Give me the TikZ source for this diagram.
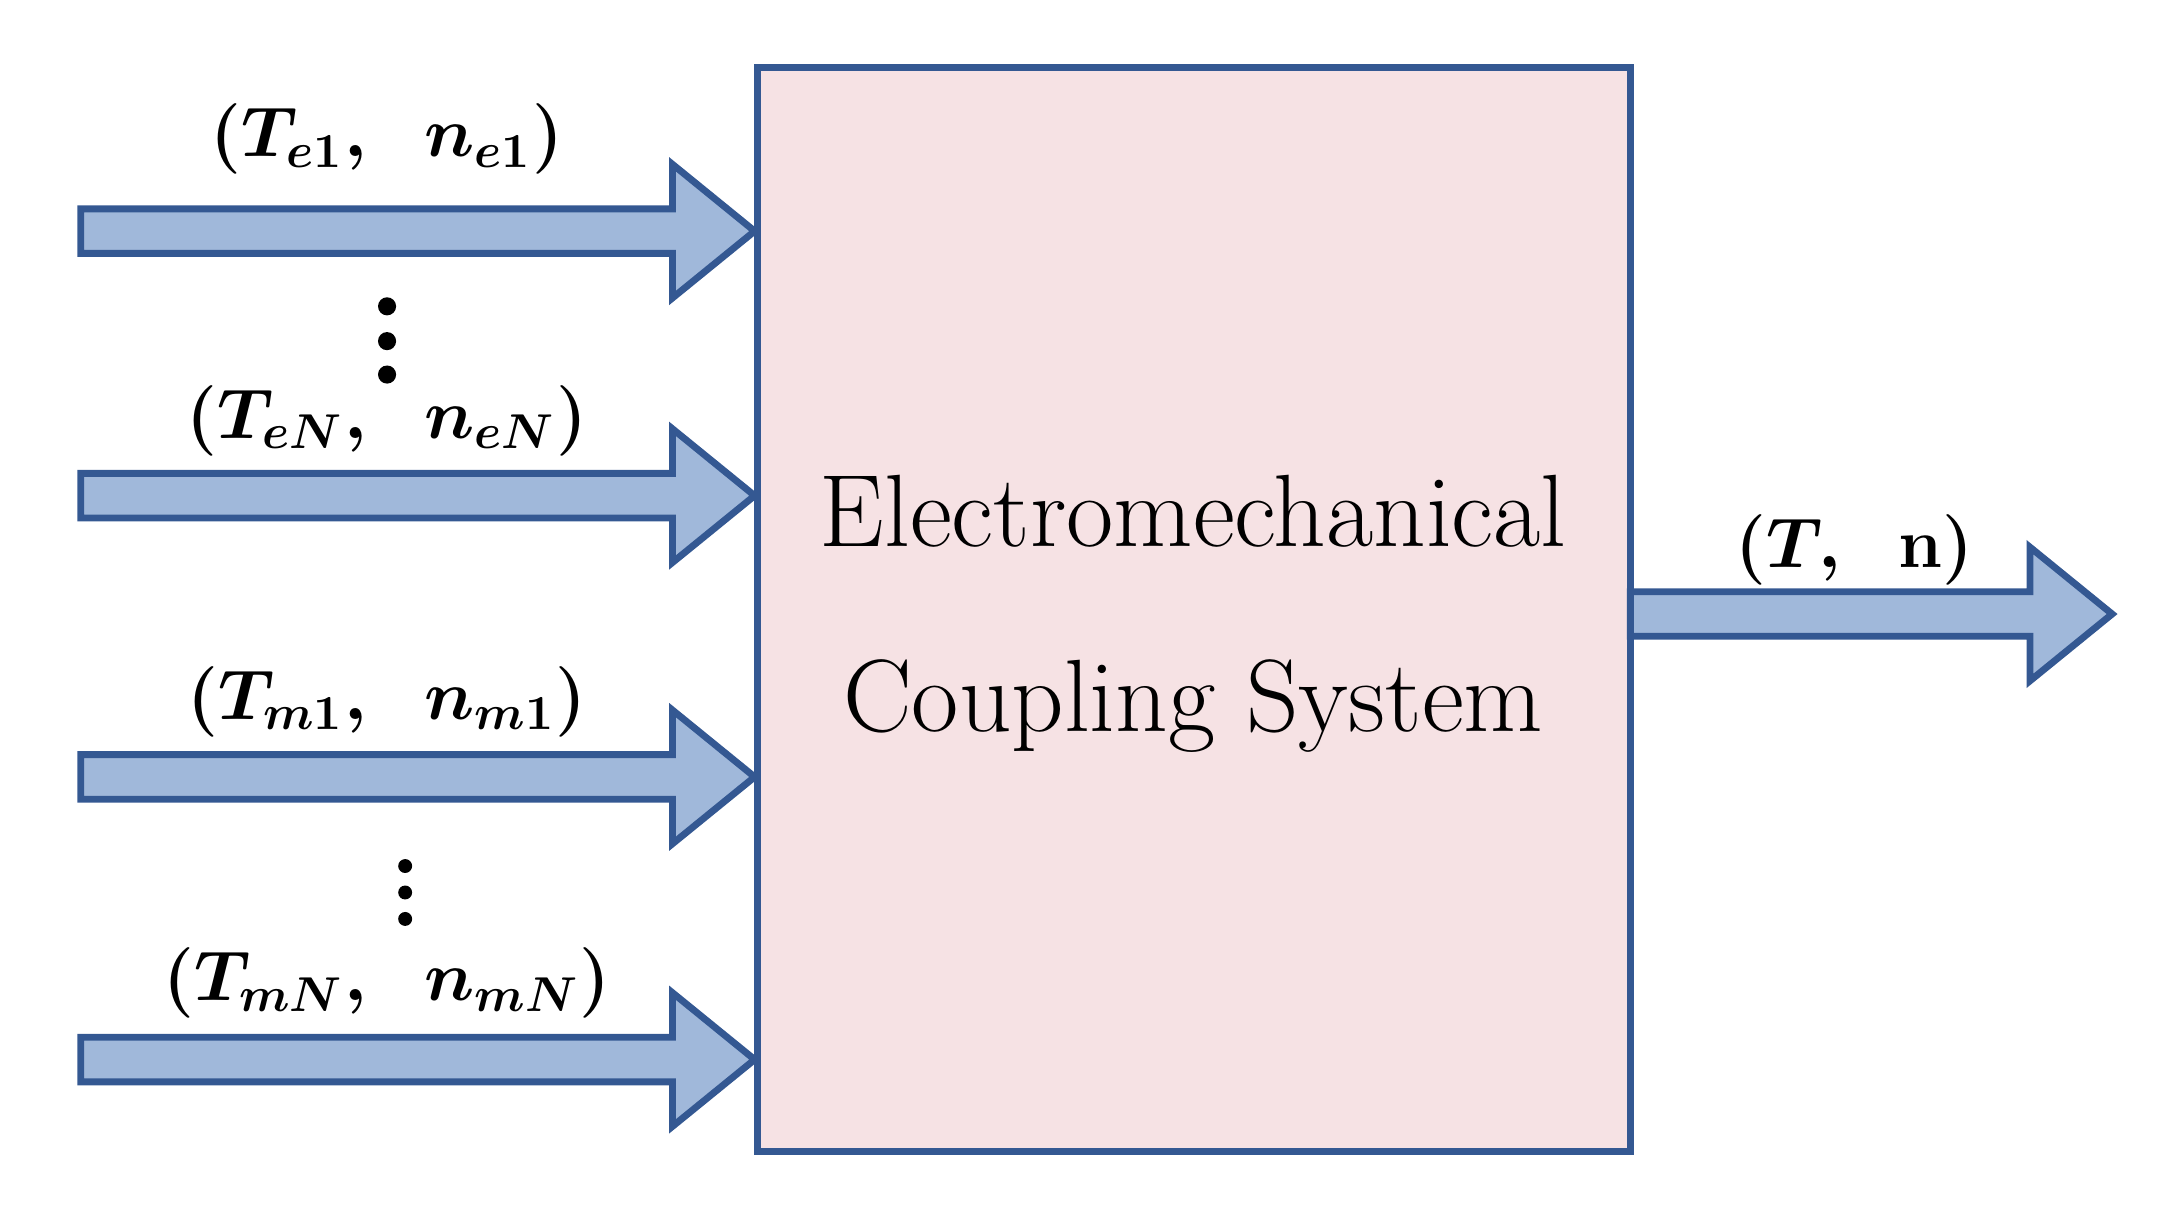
\documentclass[tikz,border=0pt]{standalone}
\usetikzlibrary{arrows.meta}
\usepackage{amsmath, amssymb, bm}

\definecolor{boxpink}{RGB}{246,226,228}
\definecolor{edgeblue}{RGB}{52,88,146}
\definecolor{arrowblue}{RGB}{160,184,218}

\tikzset{
    flow/.style={draw=edgeblue, line width=1.4pt, fill=arrowblue, line join=miter},
    lbl/.style={font=\Large},
}

\begin{document}
\begin{tikzpicture}[x=0.01cm, y=-0.01cm]
        \useasboundingbox (0,0) rectangle (1560,869);
        \node[draw=edgeblue, line width=1.4pt, fill=boxpink, minimum width=6.27cm, minimum height=7.78cm, inner sep=0pt] (box) at (857.5,438) {};
        \node[font=\fontsize{21}{25}\selectfont] (title1) at (857,367) {Electromechanical};
        \node[font=\fontsize{21}{25}\selectfont] (title2) at (857,507) {Coupling System};

        % input arrows
        \foreach \y in {166,356,558,761}
            \draw[flow] (58,\y-16) -- (483,\y-16) -- (483,\y-48) -- (542,\y) -- (483,\y+48) -- (483,\y+16) -- (58,\y+16) -- cycle;
        % output arrow
        \draw[flow] (1171,425) -- (1458,425) -- (1458,393) -- (1517,441) -- (1458,489) -- (1458,457) -- (1171,457) -- cycle;

        \node[lbl] (in1) at (278,100) {$\bm{(T_{e1},\ \ n_{e1})}$};
        \node[lbl] (in2) at (278,302) {$\bm{(T_{eN},\ \ n_{eN})}$};
        \node[lbl] (in3) at (278,504) {$\bm{(T_{m1},\ \ n_{m1})}$};
        \node[lbl] (in4) at (278,706) {$\bm{(T_{mN},\ \ n_{mN})}$};
        \node[lbl] (out) at (1332,395) {$\bm{(T,\ \ \mathbf{n})}$};

        % dots
        \foreach \y in {220,245,269}
            \fill (278,\y) circle (6.5);
        \foreach \y in {622,641,660}
            \fill (291,\y) circle (5);
    \end{tikzpicture}
\end{document}
